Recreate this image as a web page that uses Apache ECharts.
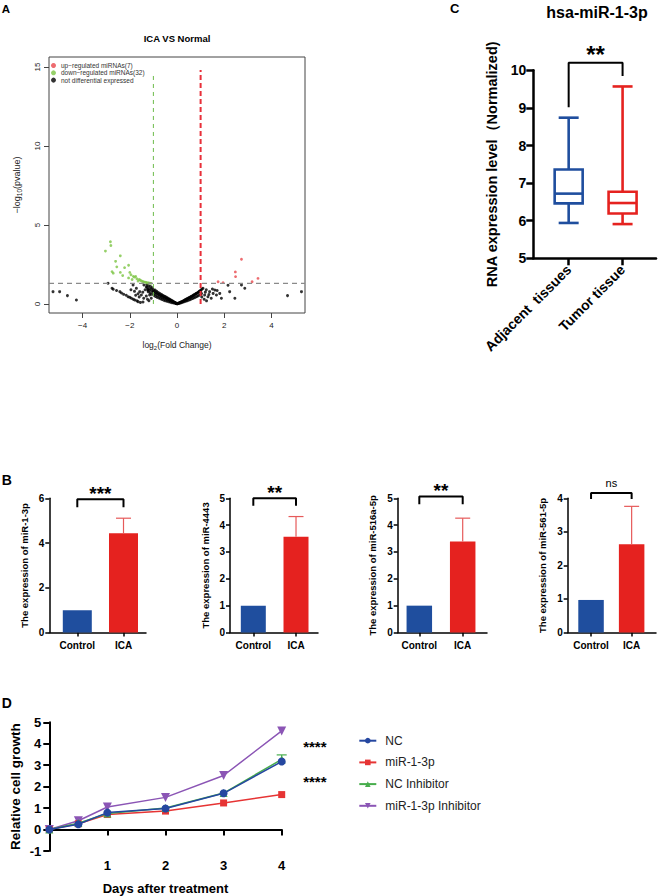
<!DOCTYPE html>
<html><head><meta charset="utf-8">
<script src="https://cdn.jsdelivr.net/npm/echarts@6/dist/echarts.min.js"></script>
<style>html,body{margin:0;padding:0;background:#fff}#c{width:659px;height:896px}</style>
</head><body><div id="c"></div>
<script>
// ---------------- Panel A: volcano plot ----------------
const volcanoUpName = 'up\u2212regulated miRNAs(7)';
const volcanoDownName = 'down\u2212regulated miRNAs(32)';
const volcanoNSName = 'not differential expressed';
const volcanoUp = [[2.73,2.83],[2.47,2.03],[2.48,1.73],[3.43,1.62],[3.18,1.41],[1.74,1.41],[1.95,1.35]];
const volcanoDown = [[-2.82,3.94],[-2.80,3.70],[-3.03,3.35],[-2.40,3.05],[-2.60,2.70],[-2.55,2.35],[-2.05,2.45],[-2.22,2.30],[-2.75,2.05],[-2.70,1.95],[-2.40,2.00],[-2.00,2.00],[-1.95,1.85],[-1.85,1.75],[-1.80,1.70],[-1.75,1.75],[-1.70,1.60],[-2.05,1.65],[-1.60,1.55],[-1.55,1.50],[-1.50,1.45],[-1.45,1.42],[-1.40,1.40],[-1.35,1.38],[-1.30,1.36],[-1.25,1.34],[-1.20,1.33],[-1.15,1.32],[-1.65,1.45],[-1.90,1.55],[-2.30,1.80],[-1.10,1.31]];
const volcanoNS = [
 [-5.25,0.78],[-4.97,0.78],[-4.64,0.53],[-4.26,0.25],[4.68,0.53],[5.27,0.78],
 [2.87,1.0],[2.73,1.2],[2.45,0.36],[2.16,1.19],[2.23,0.78],
 [-2.92,1.31],[-2.75,1.0],[-2.70,0.93],[-2.56,0.85],[-2.42,0.78],[-2.26,0.61],[-2.07,0.46],[-1.93,0.36],[-1.79,0.25],[-1.65,0.15],[-1.44,0.13],[-1.86,1.2],[-1.72,0.99],[-1.58,0.78],[-1.51,0.57],[-1.41,0.36],[-1.3,1.08],[-1.23,0.87],[-1.16,0.57],[-1.09,0.36],[-1.19,0.21],[-2.35,0.70],[-2.15,0.55],[-2.0,0.42],[-1.85,0.30],[-1.70,0.20],[-1.55,0.10],[-1.95,0.9],[-1.8,0.8],[-1.65,0.65],[-1.45,0.75],[-1.35,0.9],[-1.3,0.5],[-1.25,0.3],[-1.6,0.45],[-1.75,0.55],[-1.4,1.2],
 [1.1,1.0],[1.24,0.9],[1.38,0.78],[1.53,0.67],[1.67,0.57],[1.81,0.67],[1.88,0.36],[1.17,0.57],[1.31,0.46],[1.45,0.36],[1.60,0.88],[1.2,0.75],[1.35,0.6],[1.5,0.95],[1.7,0.85],[1.15,0.3],[1.05,0.45],[1.25,0.2],
 [-1.28,1.22],[-1.26,1.05],[-1.24,0.92],[-1.22,0.78],[-1.2,1.15],[-1.18,0.98],[-1.16,0.85],[-1.14,0.7],[-1.12,1.1],[-1.1,0.95],[-1.08,0.62],[-1.06,0.82],[-1.04,1.02],[-1.02,0.74],[-1.0,0.9],[-0.98,0.55],[-0.97,0.8],[-0.95,0.68],[-0.93,0.88],[-0.91,0.48],[-0.9,0.75],[-0.88,0.62],[-0.86,0.8],[-0.84,0.42],[-0.83,0.68],[-0.81,0.56],[-0.79,0.72],[-0.77,0.38],[-0.76,0.62],[-0.74,0.5],[-0.72,0.66],[-0.7,0.33],[-0.69,0.56],[-0.67,0.45],[-0.65,0.6],[-0.63,0.28],[-0.62,0.5],[-0.6,0.4],[-0.58,0.54],[-0.56,0.24],[-0.55,0.45],[-0.53,0.36],[-0.51,0.48],[-0.49,0.2],[-0.48,0.4],[-0.46,0.31],[-0.44,0.42],[-0.42,0.17],[-0.41,0.35],[-0.39,0.27],[-0.37,0.36],[-0.35,0.14],[-0.34,0.3],[-0.32,0.23],[-0.3,0.3],[-0.28,0.11],[-0.27,0.24],[-0.25,0.19],[-0.23,0.24],[-0.21,0.08],[-0.2,0.18],[-0.18,0.14],[-0.16,0.17],[-0.14,0.06],[-0.13,0.12],[-0.11,0.09],[-0.09,0.1],[-0.07,0.04],[-0.06,0.07],[-0.04,0.04],[-0.02,0.03],[0,0.01],
 [0.02,0.02],[0.04,0.04],[0.06,0.03],[0.08,0.06],[0.1,0.08],[0.12,0.05],[0.14,0.1],[0.16,0.12],[0.18,0.08],[0.2,0.14],[0.22,0.16],[0.24,0.11],[0.26,0.19],[0.28,0.21],[0.3,0.14],[0.32,0.23],[0.34,0.26],[0.36,0.17],[0.38,0.28],[0.4,0.31],[0.42,0.2],[0.44,0.33],[0.46,0.36],[0.48,0.24],[0.5,0.38],[0.52,0.41],[0.54,0.27],[0.56,0.43],[0.58,0.46],[0.6,0.31],[0.62,0.48],[0.64,0.51],[0.66,0.35],[0.68,0.53],[0.7,0.56],[0.72,0.39],[0.74,0.59],[0.76,0.62],[0.78,0.43],[0.8,0.64],[0.82,0.67],[0.84,0.47],[0.86,0.7],[0.88,0.73],[0.9,0.52],[0.92,0.76],[0.94,0.8],[0.96,0.57],[0.98,0.83],[1.0,0.78],[1.0,0.6],[1.02,0.88],[1.04,0.66],[1.06,0.95]
];
const volcanoXTicks = [-4,-2,0,2,4];
const volcanoYTicks = [0,5,10,15];
const foldChangeCutoffs = [-1, 1];
const pValueCutoff = 1.3;          // -log10(0.05)
const cutoffLineTops = [14.5, 14.8];

// ---------------- Panel C: box plot ----------------
const boxCategories = ['Adjacent  tissues', 'Tumor tissue'];
const boxStats = [            // [min, Q1, median, Q3, max]
  [5.94, 6.46, 6.72, 7.36, 8.74],
  [5.91, 6.19, 6.47, 6.77, 9.57]
];
const boxSignif = '**';

// ---------------- Panel B: bar charts ----------------
const barCategories = ['Control', 'ICA'];
const barGenes = ['miR-1-3p', 'miR-4443', 'miR-516a-5p', 'miR-561-5p'];
const barControl = [1, 1, 1, 0.97];
const barICA = [4.44, 3.57, 3.39, 2.63];
const barICAErr = [0.67, 0.75, 0.87, 1.13];
const barSignif = ['***', '**', '**', 'ns'];
const barYMax = [6, 5, 5, 4];
const barYStep = [2, 1, 1, 1];

// ---------------- Panel D: growth curves ----------------
const days = [0, 0.5, 1, 2, 3, 4];
const growthNC = [0, 0.25, 0.79, 0.98, 1.69, 3.17];
const growthMiR = [0, 0.27, 0.70, 0.86, 1.24, 1.63];
const growthNCInh = [0, 0.30, 0.75, 1.00, 1.70, 3.27];
const growthMiRInh = [0, 0.41, 1.05, 1.50, 2.52, 4.60];
const growthNames = ['NC', 'miR-1-3p', 'NC Inhibitor', 'miR-1-3p Inhibitor'];
const growthNCInhErr = [[4, 3.27, 3.48]];
const growthXTicks = [1, 2, 3, 4];
const growthSignif = ['****', '****'];

// ================= styling / layout =================
const FONT = '"Liberation Sans", Arial, Helvetica, sans-serif';
const BLUE = '#1f4e9e', RED = '#e5221f';
const chart = echarts.init(document.getElementById('c'), null, {renderer: 'svg', width: 659, height: 896});

function txt(text, x, y, size, weight, align, valign) {
  return {type: 'text', x: x, y: y, style: {text: text, fontSize: size, fontWeight: weight, fontFamily: FONT, fill: '#000',
    align: align, verticalAlign: valign, textAlign: align, textVerticalAlign: valign}};
}
function textRender(label, size, weight, dy) {
  return function (params, api) {
    const p = api.coord([api.value(0), api.value(1)]);
    return {type: 'text', x: p[0], y: p[1] + dy, style: {text: label, fontSize: size, fontWeight: weight, fontFamily: FONT, fill: '#000',
      align: 'center', verticalAlign: 'middle', textAlign: 'center', textVerticalAlign: 'middle'}};
  };
}
function errRender(capW, color, lw) {
  return function (params, api) {
    const x = api.value(0), v = api.value(1), hi = api.value(2);
    const p0 = api.coord([x, v]), p1 = api.coord([x, hi]);
    const st = {stroke: color, lineWidth: lw};
    return {type: 'group', children: [
      {type: 'line', shape: {x1: p0[0], y1: p0[1], x2: p1[0], y2: p1[1]}, style: st},
      {type: 'line', shape: {x1: p1[0] - capW / 2, y1: p1[1], x2: p1[0] + capW / 2, y2: p1[1]}, style: st}
    ]};
  };
}
function bracketSeries(xi, yi, pts, color, width) {
  return {type: 'line', xAxisIndex: xi, yAxisIndex: yi, data: pts, symbol: 'none', clip: false, silent: true,
    lineStyle: {color: color, width: width}, z: 5, animation: false};
}

const grids = [], xAxes = [], yAxes = [], series = [];

// ---- Panel A ----
const AX = [-5.42, 5.42], AY = [-0.57, 15.63];
grids.push({left: 49, top: 57, width: 256, height: 256, show: true, borderColor: '#444', borderWidth: 1, backgroundColor: 'transparent'});
xAxes.push({gridIndex: 0, type: 'value', min: AX[0], max: AX[1], splitLine: {show: false},
  axisLine: {show: false, onZero: false},
  axisTick: {show: true, customValues: volcanoXTicks, length: 5, lineStyle: {color: '#444', width: 1}},
  axisLabel: {customValues: volcanoXTicks, fontSize: 8, color: '#222', margin: 8, fontFamily: FONT,
    formatter: v => String(v).replace('-', '\u2212')},
  name: '{a|log}{s|2}{a|(Fold Change)}', nameLocation: 'middle', nameGap: 26,
  nameTextStyle: {rich: {a: {fontSize: 8.5, lineHeight: 12, color: '#222', fontFamily: FONT}, s: {fontSize: 6, lineHeight: 6, verticalAlign: 'bottom', color: '#222', fontFamily: FONT}}}
});
yAxes.push({gridIndex: 0, type: 'value', min: AY[0], max: AY[1], splitLine: {show: false},
  axisLine: {show: false, onZero: false},
  axisTick: {show: true, customValues: volcanoYTicks, length: 5, lineStyle: {color: '#444', width: 1}},
  axisLabel: {customValues: volcanoYTicks, fontSize: 8, color: '#222', margin: 8, rotate: 90, fontFamily: FONT},
  name: '{a|\u2212log}{s|10}{a|(pvalue)}', nameLocation: 'middle', nameGap: 26, nameRotate: 90,
  nameTextStyle: {rich: {a: {fontSize: 9, lineHeight: 12, color: '#222', fontFamily: FONT}, s: {fontSize: 6.5, lineHeight: 6, verticalAlign: 'bottom', color: '#222', fontFamily: FONT}}}
});
series.push({type: 'scatter', name: volcanoNSName, xAxisIndex: 0, yAxisIndex: 0, data: volcanoNS, symbolSize: 3, itemStyle: {color: '#000'}, z: 2});
series.push({type: 'scatter', name: volcanoDownName, xAxisIndex: 0, yAxisIndex: 0, data: volcanoDown, symbolSize: 2.8, itemStyle: {color: '#7cc443'}, z: 3});
series.push({type: 'scatter', name: volcanoUpName, xAxisIndex: 0, yAxisIndex: 0, data: volcanoUp, symbolSize: 2.8, itemStyle: {color: '#e8474c'}, z: 3});
series.push({type: 'line', xAxisIndex: 0, yAxisIndex: 0, symbol: 'none', silent: true, z: 4,
  data: [[AX[0], pValueCutoff], [AX[1], pValueCutoff]], lineStyle: {color: '#8a8a8a', width: 1.3, type: [5, 4]}});
series.push({type: 'line', xAxisIndex: 0, yAxisIndex: 0, symbol: 'none', silent: true, z: 4,
  data: [[foldChangeCutoffs[0], 0], [foldChangeCutoffs[0], cutoffLineTops[0]]], lineStyle: {color: '#6dbb4a', width: 1, type: [4, 4]}});
series.push({type: 'line', xAxisIndex: 0, yAxisIndex: 0, symbol: 'none', silent: true, z: 4,
  data: [[foldChangeCutoffs[1], 0], [foldChangeCutoffs[1], cutoffLineTops[1]]], lineStyle: {color: '#e8303a', width: 2, type: [5, 3]}});

// ---- Panel C ----
grids.push({left: 533.3, top: 70.3, width: 122.7, height: 188});
xAxes.push({gridIndex: 1, type: 'value', min: 0.344, max: 2.62, splitLine: {show: false},
  axisLine: {show: true, onZero: false, lineStyle: {color: '#000', width: 2.5}},
  axisTick: {show: true, customValues: [1, 2], length: 7, lineStyle: {color: '#000', width: 2.5}},
  axisLabel: {customValues: [1, 2], rotate: 45, fontSize: 14, fontWeight: 'bold', color: '#000', margin: 9, fontFamily: FONT,
    formatter: v => boxCategories[Math.round(v) - 1]}
});
yAxes.push({gridIndex: 1, type: 'value', min: 5, max: 10, interval: 1, splitLine: {show: false},
  axisLine: {show: true, onZero: false, lineStyle: {color: '#000', width: 2.5}},
  axisTick: {show: true, length: 7, lineStyle: {color: '#000', width: 2.5}},
  axisLabel: {fontSize: 14, fontWeight: 'bold', color: '#000', margin: 7, fontFamily: FONT},
  name: 'RNA expression level\uFF08Normalized)', nameLocation: 'middle', nameGap: 34, nameRotate: 90,
  nameTextStyle: {fontSize: 14.5, fontWeight: 'bold', color: '#000', fontFamily: FONT}
});
const boxColors = [BLUE, RED];
series.push({type: 'custom', xAxisIndex: 1, yAxisIndex: 1, silent: true, z: 3,
  data: boxStats.map((s, i) => [i + 1].concat(s)),
  encode: {x: 0, y: [1, 2, 3, 4, 5]},
  renderItem: function (params, api) {
    const x = api.value(0);
    const pts = [1, 2, 3, 4, 5].map(k => api.coord([x, api.value(k)]));
    const cx = pts[0][0], bw = 28, cw = 20;
    const st = {stroke: boxColors[params.dataIndex], lineWidth: 2.6, fill: 'none'};
    return {type: 'group', children: [
      {type: 'rect', shape: {x: cx - bw / 2, y: pts[3][1], width: bw, height: pts[1][1] - pts[3][1]}, style: st},
      {type: 'line', shape: {x1: cx - bw / 2, y1: pts[2][1], x2: cx + bw / 2, y2: pts[2][1]}, style: st},
      {type: 'line', shape: {x1: cx, y1: pts[3][1], x2: cx, y2: pts[4][1]}, style: st},
      {type: 'line', shape: {x1: cx, y1: pts[1][1], x2: cx, y2: pts[0][1]}, style: st},
      {type: 'line', shape: {x1: cx - cw / 2, y1: pts[4][1], x2: cx + cw / 2, y2: pts[4][1]}, style: st},
      {type: 'line', shape: {x1: cx - cw / 2, y1: pts[0][1], x2: cx + cw / 2, y2: pts[0][1]}, style: st}
    ]};
  }
});
series.push(bracketSeries(1, 1, [[1, 9.02], [1, 10.2], [2, 10.2], [2, 9.85]], '#000', 2));
series.push({type: 'custom', xAxisIndex: 1, yAxisIndex: 1, silent: true, data: [[1.5, 10.54]], renderItem: textRender(boxSignif, 24, 'bold', 5)});

// ---- Panel B ----
const bLayout = [
  {left: 49.3, width: 96.7, min: 0.394, max: 2.487, barW: 29, br: [5.6, 5.96, 5.6], t: 6.40},
  {left: 230, width: 88, min: 0.454, max: 2.515, barW: 25, br: [4.72, 5.0, 4.72], t: 5.35},
  {left: 397.7, width: 89.3, min: 0.502, max: 2.56, barW: 25.5, br: [4.78, 5.07, 4.78], t: 5.43},
  {left: 567.7, width: 88.3, min: 0.425, max: 2.6, barW: 25.5, br: [3.98, 4.16, 3.98], t: 4.45}
];
bLayout.forEach((L, i) => {
  const gi = 2 + i;
  grids.push({left: L.left, top: 498.3, width: L.width, height: 134.2});
  xAxes.push({gridIndex: gi, type: 'value', min: L.min, max: L.max, splitLine: {show: false},
    axisLine: {show: true, onZero: false, lineStyle: {color: '#000', width: 1.5}},
    axisTick: {show: true, customValues: [1, 2], length: 4, lineStyle: {color: '#000', width: 1.5}},
    axisLabel: {customValues: [1, 2], fontSize: 10, fontWeight: 'bold', color: '#000', margin: 8, fontFamily: FONT,
      formatter: v => barCategories[Math.round(v) - 1]}
  });
  yAxes.push({gridIndex: gi, type: 'value', min: 0, max: barYMax[i], interval: barYStep[i], splitLine: {show: false},
    axisLine: {show: true, onZero: false, lineStyle: {color: '#000', width: 1.5}},
    axisTick: {show: true, length: 4, lineStyle: {color: '#000', width: 1.5}},
    axisLabel: {fontSize: 10, fontWeight: 'bold', color: '#000', margin: 5, fontFamily: FONT},
    name: 'The expression of ' + barGenes[i], nameLocation: 'middle', nameGap: 20, nameRotate: 90,
    nameTextStyle: {fontSize: 9.5, fontWeight: 'bold', color: '#000', fontFamily: FONT}
  });
  series.push({type: 'bar', xAxisIndex: gi, yAxisIndex: gi, barWidth: L.barW, silent: true, z: 2,
    data: [{value: [1, barControl[i]], itemStyle: {color: BLUE}}, {value: [2, barICA[i]], itemStyle: {color: RED}}]});
  series.push({type: 'custom', xAxisIndex: gi, yAxisIndex: gi, silent: true, z: 3,
    data: [[2, barICA[i], barICA[i] + barICAErr[i]]], renderItem: errRender(15, '#e65a5a', 1.2)});
  series.push(bracketSeries(gi, gi, [[1, L.br[0]], [1, L.br[1]], [2, L.br[1]], [2, L.br[2]]], '#000', 2));
  const isNs = barSignif[i] === 'ns';
  series.push({type: 'custom', xAxisIndex: gi, yAxisIndex: gi, silent: true, data: [[1.5, L.t]],
    renderItem: isNs ? textRender(barSignif[i], 11, 'normal', 0) : textRender(barSignif[i], 19, 'bold', 4)});
});

// ---- Panel D ----
const gD = 6;
grids.push({left: 49.3, top: 722.3, width: 232.4, height: 156});
xAxes.push({gridIndex: gD, type: 'value', min: 0, max: 4, splitLine: {show: false},
  axisLine: {show: true, onZero: true, lineStyle: {color: '#000', width: 2}},
  axisTick: {show: true, customValues: growthXTicks, length: 6, lineStyle: {color: '#000', width: 2}},
  axisLabel: {customValues: growthXTicks, fontSize: 13, fontWeight: 'bold', color: '#000', margin: 8, fontFamily: FONT},
  name: 'Days after treatment', nameLocation: 'middle', nameGap: 31,
  nameTextStyle: {fontSize: 13, fontWeight: 'bold', color: '#000', fontFamily: FONT}
});
yAxes.push({gridIndex: gD, type: 'value', min: -1, max: 5, interval: 1, splitLine: {show: false},
  axisLine: {show: true, onZero: false, lineStyle: {color: '#000', width: 2}},
  axisTick: {show: true, length: 6, lineStyle: {color: '#000', width: 2}},
  axisLabel: {fontSize: 13, fontWeight: 'bold', color: '#000', margin: 8, fontFamily: FONT},
  name: 'Relative cell growth', nameLocation: 'middle', nameGap: 27, nameRotate: 90,
  nameTextStyle: {fontSize: 13.5, fontWeight: 'bold', color: '#000', fontFamily: FONT}
});
const growthDefs = [
  {name: growthNames[3], vals: growthMiRInh, color: '#8b55b5', symbol: 'path://M0,0 L10,0 L5,9 Z', size: 9},
  {name: growthNames[1], vals: growthMiR, color: '#e63434', symbol: 'rect', size: 7},
  {name: growthNames[2], vals: growthNCInh, color: '#47ad4c', symbol: 'triangle', size: 8},
  {name: growthNames[0], vals: growthNC, color: '#2547a0', symbol: 'circle', size: 8}
];
series.push({type: 'custom', xAxisIndex: gD, yAxisIndex: gD, silent: true, z: 1,
  data: growthNCInhErr, renderItem: errRender(10, '#47ad4c', 1.2)});
growthDefs.forEach((g, k) => {
  series.push({type: 'line', name: g.name, xAxisIndex: gD, yAxisIndex: gD, z: 2 + k,
    data: days.map((d, i) => [d, g.vals[i]]), symbol: g.symbol, symbolSize: g.size, showSymbol: true,
    itemStyle: {color: g.color}, lineStyle: {color: g.color, width: 1.5}});
});
series.push(bracketSeries(gD, gD, [[4.19, 4.73], [4.275, 4.73], [4.275, 3.48], [4.19, 3.48]], '#333', 1.2));
series.push(bracketSeries(gD, gD, [[4.19, 3.20], [4.275, 3.20], [4.275, 1.65], [4.19, 1.65]], '#333', 1.2));
series.push({type: 'custom', xAxisIndex: gD, yAxisIndex: gD, silent: true, data: [[4.57, 4.04]], renderItem: textRender(growthSignif[0], 15, 'bold', 3.3)});
series.push({type: 'custom', xAxisIndex: gD, yAxisIndex: gD, silent: true, data: [[4.57, 2.40]], renderItem: textRender(growthSignif[1], 15, 'bold', 3.3)});

const option = {
  animation: false,
  backgroundColor: '#fff',
  textStyle: {fontFamily: FONT},
  graphic: [
    txt('A', 1.7, 9.2, 11.5, 'bold', 'left', 'middle'),
    txt('ICA VS Normal', 177, 38, 9.5, 'bold', 'center', 'middle'),
    txt('C', 450, 8, 13, 'bold', 'left', 'middle'),
    txt('hsa-miR-1-3p', 597, 12.5, 16, 'bold', 'center', 'middle'),
    txt('B', 1.7, 480, 14, 'bold', 'left', 'middle'),
    txt('D', 1.7, 703.3, 14, 'bold', 'left', 'middle')
  ],
  legend: [
    {data: [volcanoUpName, volcanoDownName, volcanoNSName], orient: 'vertical', left: 51, top: 62, padding: 0,
      itemWidth: 5, itemHeight: 5, itemGap: 0.3, icon: 'circle', selectedMode: false,
      textStyle: {fontSize: 6.5, lineHeight: 7, color: '#333', fontFamily: FONT}},
    {data: growthNames, orient: 'vertical', left: 358.3, top: 733.7, padding: 0,
      itemWidth: 17, itemHeight: 7, itemGap: 7.7, selectedMode: false,
      textStyle: {fontSize: 12, lineHeight: 14, color: '#222', fontFamily: FONT, padding: [0, 0, 0, 4]}}
  ],
  grid: grids,
  xAxis: xAxes,
  yAxis: yAxes,
  series: series
};
chart.setOption(option);
</script>
</body></html>
